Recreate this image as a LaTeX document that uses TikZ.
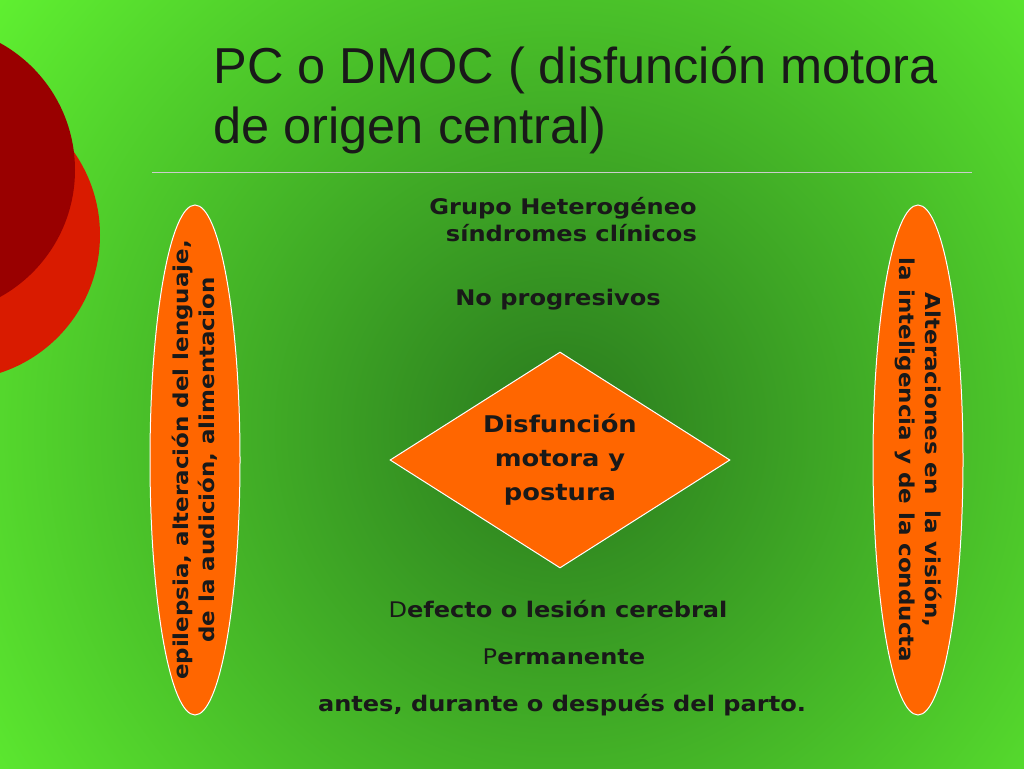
\documentclass[tikz,border=0pt]{standalone}
\usepackage{fontspec}
\setmainfont{DejaVu Sans}[FakeStretch=1.12]
\newfontfamily\titlefont{Liberation Sans}
\usetikzlibrary{shapes.geometric}
\definecolor{orng}{HTML}{FF6600}
\definecolor{dgreen}{HTML}{2A7A1E}
\definecolor{lgreen}{HTML}{66FF33}
\tikzset{x=1pt,y=-1pt,
 txt/.style={font=\bfseries\fontsize{21.5}{27}\selectfont,text=black!90,align=center},
 oval/.style={ellipse,fill=orng,draw=white,line width=1pt}}
\begin{document}
\begin{tikzpicture}
\useasboundingbox (0,0) rectangle (1024,768);
\begin{scope}
\clip (0,0) rectangle (1024,768);
\fill[lgreen] (0,0) rectangle (1024,768);
\shade[inner color=dgreen,outer color=lgreen] (560,430) circle (800);
\fill[red!75!orange!85!black] (-45,235) circle (145);
\fill[red!60!black] (-70,170) circle (145);
\end{scope}
\node[anchor=west,font=\titlefont\fontsize{50.5}{58}\selectfont,text=black!90] (t1) at (210,70) {PC o DMOC ( disfunción motora};
\node[anchor=west,font=\titlefont\fontsize{50.5}{58}\selectfont,text=black!90] (t2) at (210,130) {de origen central)};
\draw[gray!40,line width=0.8pt] (152,172) -- (972,172);
\node[oval,minimum width=90,minimum height=510] (L) at (195,460) {};
\node[txt,rotate=90,font=\bfseries\fontsize{20.5}{26}\selectfont] (Lt) at (L) {epilepsia, alteración del lenguaje,\\de la audición, alimentacion};
\node[oval,minimum width=90,minimum height=510] (R) at (918,460) {};
\node[txt,rotate=-90,font=\bfseries\fontsize{20.5}{26}\selectfont] (Rt) at (R) {Alteraciones en\ \ la visión,\\la inteligencia y de la conducta};
\node[diamond,fill=orng,draw=white,line width=1pt,minimum width=340,minimum height=216,aspect=1.57] (D) at (560,460) {};
\node[txt,font=\bfseries\fontsize{23}{34}\selectfont] (Dt) at (D) {Disfunción\\motora y\\postura};
\node[txt] (g) at (563,220) {Grupo Heterogéneo\\\ \ síndromes clínicos};
\node[txt] (np) at (558,300) {No progresivos};
\node[txt] (b1) at (558,609) {{\mdseries D}efecto o lesión cerebral};
\node[txt] (b2) at (564,657) {{\mdseries P}ermanente};
\node[txt] (b3) at (562,705) {antes, durante o después del parto.};
\end{tikzpicture}
\end{document}
